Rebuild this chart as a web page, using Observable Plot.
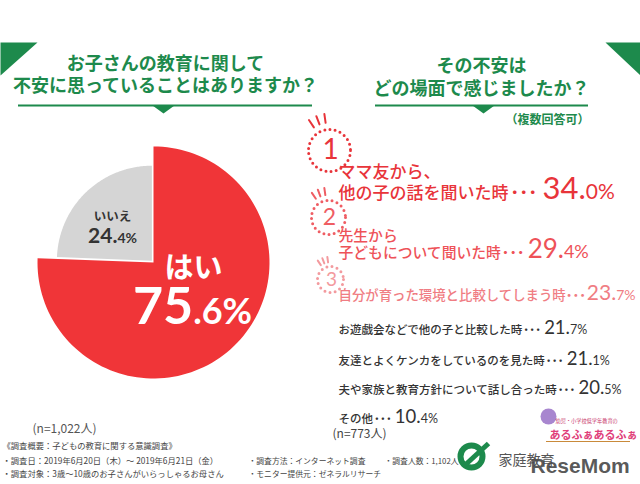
<!DOCTYPE html>
<html><head><meta charset="utf-8">
<script src="https://cdn.jsdelivr.net/npm/d3@7"></script>
<script src="https://cdn.jsdelivr.net/npm/@observablehq/plot@0.6"></script>
<style>body{margin:0;background:#fff}#chart{width:640px;height:484px}</style>
</head><body><div id="chart"></div>
<script>
// ---------- data ----------
const titleLeft = ["お子さんの教育に関して", "不安に思っていることはありますか？"];
const titleRight = ["その不安は", "どの場面で感じましたか？"];
const noteRight = "（複数回答可）";
const answers = ["はい", "いいえ"];
const answerValues = [75.6, 24.4];
const answerN = "(n=1,022人)";
const reasons = [
  "ママ友から、\n他の子の話を聞いた時",
  "先生から\n子どもについて聞いた時",
  "自分が育った環境と比較してしまう時",
  "お遊戯会などで他の子と比較した時",
  "友達とよくケンカをしているのを見た時",
  "夫や家族と教育方針について話し合った時",
  "その他"
];
const reasonValues = [34.0, 29.4, 23.7, 21.7, 21.1, 20.5, 10.4];
const ranks = ["1", "2", "3"];
const reasonN = "(n=773人)";
const surveyLeft = [
  "《調査概要：子どもの教育に関する意識調査》",
  "・調査日：2019年6月20日（木）～ 2019年6月21日（金）",
  "・調査対象：3歳～10歳のお子さんがいらっしゃるお母さん"
];
const surveyRight = ["・調査方法：インターネット調査", "・調査人数：1,102人", "・モニター提供元：ゼネラルリサーチ"];
const logoTexts = ["家庭教育", "ReseMom", "幼児・小学校低学年教育の", "あるふぁあるふぁ"];

// ---------- layout / style ----------
const GREEN = "#1d8a4c";
const NUMFONT = "Lato, 'Open Sans', sans-serif";
const PIE = {cx: 153, cy: 262, r: [116, 95], off: [[0, 0], [-1.6, -1.8]], colors: ["#f03538", "#d5d5d5"]};
const ROWS = [
  {x: 338, base: [177, 198], size: [17, 17, 31, 21], color: "#e8343a", dots: [2, 0.5], ndx: 5},
  {x: 338, base: [240, 257], size: [14.8, 14.8, 26, 18], color: "#ee5258", dots: [1, 0.2], ndx: 3},
  {x: 338, base: [299], size: [13.4, 13.4, 21, 14], color: "#f07d83", dots: [0, 0], ndx: 1},
  {x: 338, base: [333], size: [11.5, 11.5, 18.5, 12.5], color: "#333", dots: [1, 0.2], ndx: 3},
  {x: 338, base: [364], size: [11.5, 11.5, 18.5, 12.5], color: "#333", dots: [1, 0.2], ndx: 3},
  {x: 338, base: [393], size: [11.5, 11.5, 18.5, 12.5], color: "#333", dots: [1, 0.2], ndx: 3},
  {x: 338, base: [422], size: [11.5, 11.5, 18.5, 12.5], color: "#333", dots: [1, 0.2], ndx: 3}
];
const BADGES = [
  {cx: 329, cy: 150, r: 21, size: 28, color: "#e8343a"},
  {cx: 328, cy: 217, r: 17, size: 23, color: "#ef5d63"},
  {cx: 330, cy: 279, r: 13, size: 19, color: "#f39a9e"}
];

// rich text helper: parts split by "|" rendered as tspans
const SPECS = [];
function rich(str, spec) { SPECS.push(spec); return `⟦${SPECS.length - 1}⟧` + str; }
function applyRich(svg) {
  svg.querySelectorAll("text").forEach(t => {
    const m = /^⟦(\d+)⟧/.exec(t.textContent);
    if (!m) return;
    const spec = SPECS[+m[1]];
    const parts = t.textContent.slice(m[0].length).split("|");
    t.textContent = "";
    parts.forEach((p, k) => {
      const s = spec[k] || {};
      const ts = document.createElementNS("http://www.w3.org/2000/svg", "tspan");
      if (s.size) ts.setAttribute("font-size", s.size);
      if (s.family) ts.setAttribute("font-family", s.family);
      if (s.weight) ts.setAttribute("font-weight", s.weight);
      if (s.dx) ts.setAttribute("dx", s.dx);
      if (s.ls != null) ts.setAttribute("letter-spacing", s.ls);
      ts.textContent = p;
      t.appendChild(ts);
    });
  });
}
const splitNum = v => { const [a, b] = v.toFixed(1).split("."); return [a + ".", b + "%"]; };

const marks = [];
const poly = (pts, fill) => Plot.line(pts, {x: d => d[0], y: d => d[1], curve: "linear-closed", fill, stroke: "none"});

// header decorations
marks.push(poly([[0, 42], [37, 42], [0, 75]], GREEN));
marks.push(poly([[605, 42], [640, 42], [640, 75]], GREEN));
marks.push(Plot.ruleY([105], {x1: 18, x2: 312, stroke: GREEN, strokeWidth: 2}));
marks.push(Plot.ruleY([105], {x1: 375, x2: 588, stroke: GREEN, strokeWidth: 2}));
marks.push(poly([[152, 105], [174, 105], [163, 113]], GREEN));
marks.push(poly([[472, 105], [494, 105], [483, 113]], GREEN));
marks.push(Plot.text(titleLeft, {x: 165, y: (d, i) => [69, 91][i], text: d => d, fill: GREEN, fontSize: 18, fontWeight: 700, lineAnchor: "bottom"}));
marks.push(Plot.text(titleRight, {x: 481, y: (d, i) => [71, 94][i], text: d => d, fill: GREEN, fontSize: 18, fontWeight: 700, lineAnchor: "bottom"}));
marks.push(Plot.text([noteRight], {x: 589, y: 123, text: d => d, fill: GREEN, fontSize: 12, fontWeight: 700, textAnchor: "end", lineAnchor: "bottom"}));

// pie
const total = d3.sum(answerValues);
let acc = 0;
answerValues.forEach((v, i) => {
  const a0 = acc / total * 2 * Math.PI; acc += v; const a1 = acc / total * 2 * Math.PI;
  const cx = PIE.cx + PIE.off[i][0], cy = PIE.cy + PIE.off[i][1], r = PIE.r[i];
  const pts = [[cx, cy]];
  const n = 120;
  for (let k = 0; k <= n; k++) { const a = a0 + (a1 - a0) * k / n; pts.push([cx + r * Math.sin(a), cy - r * Math.cos(a)]); }
  marks.push(poly(pts, PIE.colors[i]));
});
// pie labels
{
  const [yi, yd] = splitNum(answerValues[0]);
  const [ni, nd] = splitNum(answerValues[1]);
  marks.push(Plot.text([answers[0]], {x: 193, y: 277, text: d => d, fill: "white", fontSize: 29, fontWeight: 700, lineAnchor: "bottom"}));
  marks.push(Plot.text([rich(yi.replace(".", "") + "|." + yd, [{size: 52, family: NUMFONT, weight: 700}, {size: 36, family: NUMFONT, weight: 700}])],
    {x: 192, y: 323, text: d => d, fill: "white", lineAnchor: "bottom"}));
  marks.push(Plot.text([answers[1]], {x: 112, y: 220, text: d => d, fill: "#333", fontSize: 12.5, fontWeight: 700, lineAnchor: "bottom"}));
  marks.push(Plot.text([rich(ni + "|" + nd, [{size: 21, family: NUMFONT, weight: 700}, {size: 14, family: NUMFONT, weight: 700}])],
    {x: 112, y: 242, text: d => d, fill: "#333", lineAnchor: "bottom"}));
}
marks.push(Plot.text([answerN], {x: 32, y: 432, text: d => d, fill: "#555", fontSize: 12, textAnchor: "start", lineAnchor: "bottom"}));

// rank badges
BADGES.forEach((b, i) => {
  marks.push(Plot.dot([b], {x: "cx", y: "cy", r: b.r, stroke: b.color, strokeWidth: 3, strokeDasharray: "0 5.2", strokeLinecap: "round", fill: "none"}));
  marks.push(Plot.text([ranks[i]], {x: b.cx + 1, y: b.cy, text: d => d, fill: b.color, fontSize: b.size, fontFamily: NUMFONT, fontWeight: 400}));
  const ticks = [34, 21, 8].map(deg => {
    const a = -deg * Math.PI / 180;
    const r1 = b.r * 1.33, r2 = b.r * 1.75;
    return {x1: b.cx + r1 * Math.sin(a), y1: b.cy - r1 * Math.cos(a), x2: b.cx + r2 * Math.sin(a), y2: b.cy - r2 * Math.cos(a)};
  });
  marks.push(Plot.link(ticks, {x1: "x1", y1: "y1", x2: "x2", y2: "y2", stroke: b.color, strokeWidth: 2, strokeLinecap: "round"}));
});

// reasons list
reasons.forEach((r, i) => {
  const L = ROWS[i];
  const lines = r.split("\n");
  const last = lines.pop();
  lines.forEach((ln, k) => marks.push(Plot.text([ln], {x: L.x, y: L.base[k], text: d => d, fill: L.color, fontSize: L.size[0], fontWeight: 500, textAnchor: "start", lineAnchor: "bottom"})));
  const [ip, dp] = splitNum(reasonValues[i]);
  const spec = [
    {size: L.size[0], weight: 500},
    {size: L.size[1], weight: 900, dx: L.dots[0], ls: L.dots[1]},
    {size: L.size[2], family: NUMFONT, weight: 400, dx: L.ndx},
    {size: L.size[3], family: NUMFONT, weight: 400}
  ];
  marks.push(Plot.text([rich(last + "|･･･|" + ip + "|" + dp, spec)], {x: L.x, y: L.base[L.base.length - 1], text: d => d, fill: L.color, textAnchor: "start", lineAnchor: "bottom"}));
});
marks.push(Plot.text([reasonN], {x: 332, y: 437, text: d => d, fill: "#444", fontSize: 12, textAnchor: "start", lineAnchor: "bottom"}));

// survey notes
marks.push(Plot.text(surveyLeft, {x: 2, y: (d, i) => [448, 463, 476][i], text: d => d, fill: "#444", fontSize: 8.3, textAnchor: "start", lineAnchor: "bottom"}));
marks.push(Plot.text(surveyRight, {x: (d, i) => [248, 384, 248][i], y: (d, i) => [463, 463, 476][i], text: d => d, fill: "#444", fontSize: 7.8, textAnchor: "start", lineAnchor: "bottom"}));

// logos (approximate)
marks.push(Plot.dot([0], {x: 471, y: 456, r: 11, stroke: GREEN, strokeWidth: 6, fill: "none"}));
marks.push(Plot.link([0], {x1: 463, y1: 466, x2: 488, y2: 443, stroke: GREEN, strokeWidth: 5}));
marks.push(Plot.text([logoTexts[0]], {x: 498, y: 464, text: d => d, fill: "#555", fontSize: 14, textAnchor: "start", lineAnchor: "bottom"}));
marks.push(Plot.text([logoTexts[1]], {x: 530, y: 472, text: d => d, fill: "#4a4a4a", fillOpacity: 0.92, fontSize: 21, fontWeight: 900, fontFamily: "'Liberation Sans', Arial, sans-serif", letterSpacing: -0.8, textAnchor: "start", lineAnchor: "bottom"}));
marks.push(Plot.dot([0], {x: 548, y: 416, r: 8, fill: "#a886cf"}));
marks.push(Plot.text([logoTexts[2]], {x: 555, y: 422, text: d => d, fill: "#c8396d", fontSize: 5.2, textAnchor: "start", lineAnchor: "bottom"}));
marks.push(Plot.text([logoTexts[3]], {x: 549, y: 438, text: d => d, fill: "#e0407a", fontSize: 11, fontWeight: 700, letterSpacing: -1.2, textAnchor: "start", lineAnchor: "bottom"}));
marks.push(Plot.ruleY([441], {x1: 546, x2: 630, stroke: "#c98a3a", strokeWidth: 1.2}));

const chart = Plot.plot({
  width: 640, height: 484, margin: 0,
  x: {domain: [0, 640], range: [0, 640], axis: null},
  y: {domain: [0, 484], range: [0, 484], axis: null},
  style: {fontFamily: "'Noto Sans CJK JP', 'Noto Sans', sans-serif", background: "white", overflow: "visible"},
  marks
});
applyRich(chart);
document.getElementById("chart").appendChild(chart);
</script></body></html>
